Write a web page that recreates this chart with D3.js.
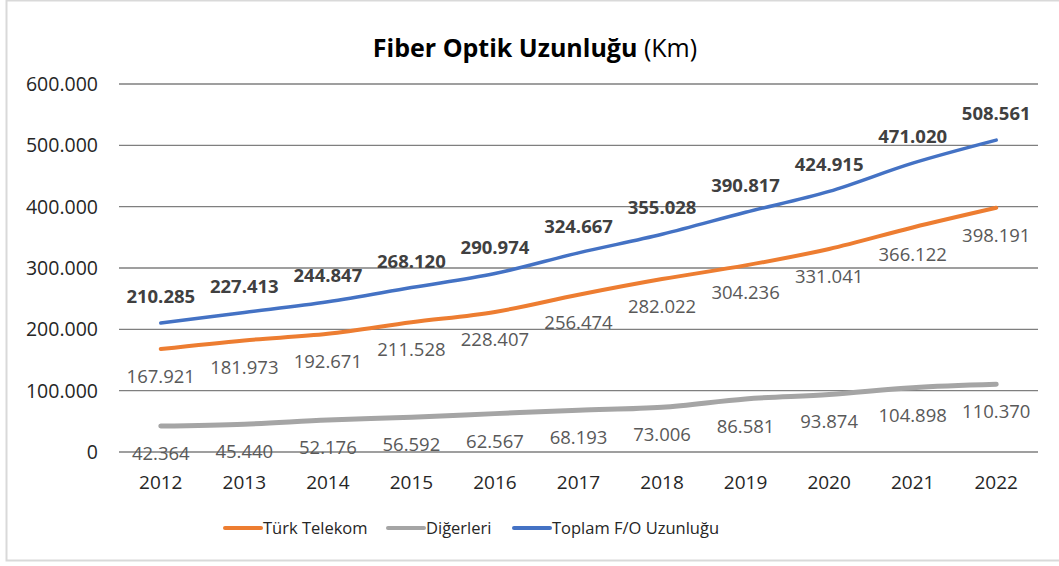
<!DOCTYPE html>
<html lang="tr">
<head>
<meta charset="UTF-8">
<title>Fiber Optik Uzunluğu</title>
<script src="https://cdn.jsdelivr.net/npm/d3@7"></script>
<style>
  body { margin: 0; background: #fff; }
  text { font-family: "Open Sans", sans-serif; }
</style>
</head>
<body>
<script>
var years = ['2012', '2013', '2014', '2015', '2016', '2017', '2018', '2019', '2020', '2021', '2022'];
var turkTelekom = [167921, 181973, 192671, 211528, 228407, 256474, 282022, 304236, 331041, 366122, 398191];
var digerleri = [42364, 45440, 52176, 56592, 62567, 68193, 73006, 86581, 93874, 104898, 110370];
var toplam = [210285, 227413, 244847, 268120, 290974, 324667, 355028, 390817, 424915, 471020, 508561];
var yTicks = [0, 100000, 200000, 300000, 400000, 500000, 600000];

var width = 1059, height = 566;
var svg = d3.select('body').append('svg')
    .attr('width', width)
    .attr('height', height);

// outer frame
svg.append('rect')
    .attr('x', 6.5).attr('y', 0.5)
    .attr('width', width - 4).attr('height', 560)
    .attr('fill', '#fff')
    .attr('stroke', '#d9d9d9')
    .attr('stroke-width', 2);

var x = d3.scaleBand().domain(years).range([119, 1038]);
var y = d3.scaleLinear().domain([0, 600000]).range([452, 84]);

var fmt = function (v) {
    return d3.format(',')(v).replace(/,/g, '.');
};

// gridlines
svg.selectAll('line.grid')
    .data(yTicks)
    .enter()
    .append('line')
    .attr('class', 'grid')
    .attr('x1', 119).attr('x2', 1038)
    .attr('y1', function (d) { return y(d); })
    .attr('y2', function (d) { return y(d); })
    .attr('stroke', '#7f7f7f')
    .attr('stroke-width', 1.3);

// y labels
svg.selectAll('text.ytick')
    .data(yTicks)
    .enter()
    .append('text')
    .attr('class', 'ytick')
    .attr('x', 98)
    .attr('y', function (d) { return y(d) + 7; })
    .attr('text-anchor', 'end')
    .attr('font-size', '19.5px')
    .attr('fill', '#262626')
    .text(function (d) { return d === 0 ? '0' : fmt(d); });

// x labels
svg.selectAll('text.xtick')
    .data(years)
    .enter()
    .append('text')
    .attr('class', 'xtick')
    .attr('x', function (d) { return x(d) + x.bandwidth() / 2; })
    .attr('y', 489)
    .attr('text-anchor', 'middle')
    .attr('font-size', '19px')
    .attr('fill', '#262626')
    .text(function (d) { return d; });

var series = [
    {name: 'Türk Telekom', values: turkTelekom, color: '#ED7D31', width: 4, pos: 'below', bold: false},
    {name: 'Diğerleri', values: digerleri, color: '#A5A5A5', width: 5, pos: 'below', bold: false},
    {name: 'Toplam F/O Uzunluğu', values: toplam, color: '#4472C4', width: 3.5, pos: 'above', bold: true}
];

var line = d3.line()
    .x(function (d, i) { return x(years[i]) + x.bandwidth() / 2; })
    .y(function (d) { return y(d); })
    .curve(d3.curveCatmullRom.alpha(0.5));

series.forEach(function (s) {
    svg.append('path')
        .datum(s.values)
        .attr('d', line)
        .attr('fill', 'none')
        .attr('stroke', s.color)
        .attr('stroke-width', s.width)
        .attr('stroke-linecap', 'round');
});

series.forEach(function (s) {
    svg.selectAll(null)
        .data(s.values)
        .enter()
        .append('text')
        .attr('x', function (d, i) { return x(years[i]) + x.bandwidth() / 2; })
        .attr('y', function (d) { return s.pos === 'above' ? y(d) - 20 : y(d) + 34; })
        .attr('text-anchor', 'middle')
        .attr('font-size', '18.5px')
        .attr('font-weight', s.bold ? 'bold' : 'normal')
        .attr('fill', s.bold ? '#404040' : '#595959')
        .text(function (d) { return fmt(d); });
});

// title
var title = svg.append('text')
    .attr('x', 535)
    .attr('y', 57)
    .attr('text-anchor', 'middle')
    .attr('fill', '#000');
title.append('tspan').attr('font-weight', 'bold').attr('font-size', '25px').text('Fiber Optik Uzunluğu');
title.append('tspan').attr('font-size', '25px').text(' (Km)');

// legend
var legendX = [225, 388, 514];
series.forEach(function (s, i) {
    var g = svg.append('g').attr('transform', 'translate(' + legendX[i] + ',528)');
    g.append('line')
        .attr('x1', 0).attr('x2', 36)
        .attr('stroke', s.color)
        .attr('stroke-width', 4)
        .attr('stroke-linecap', 'round');
    g.append('text')
        .attr('x', 38)
        .attr('y', 6)
        .attr('font-size', '16.5px')
        .attr('fill', '#262626')
        .text(s.name);
});
</script>
</body>
</html>
